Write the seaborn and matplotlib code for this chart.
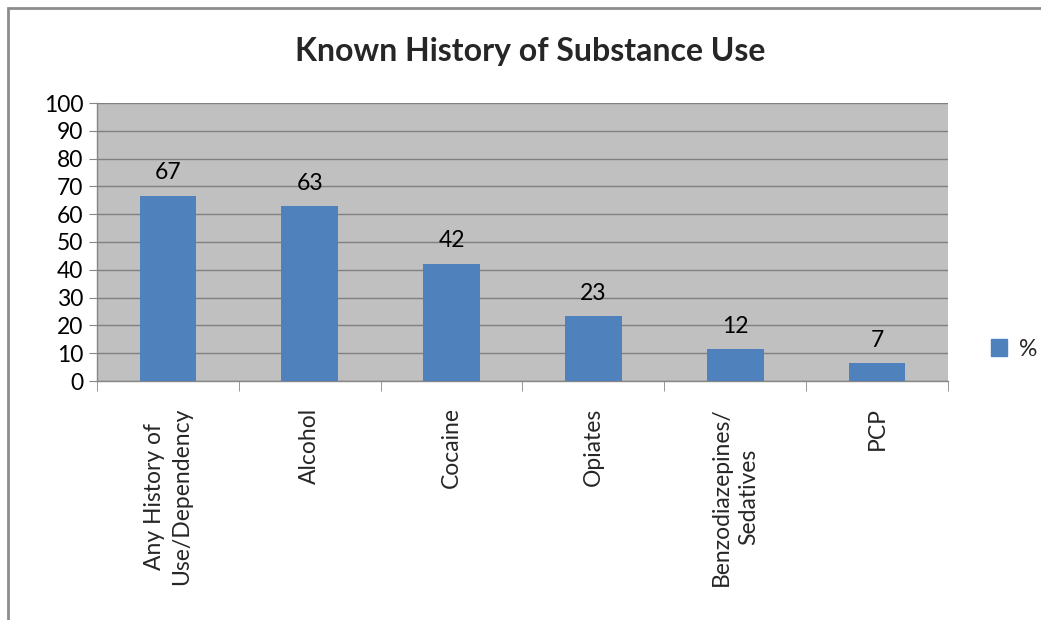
import matplotlib
matplotlib.use("Agg")
import matplotlib.pyplot as plt
import seaborn as sns
import pandas as pd
from matplotlib.patches import Rectangle, Patch

categories = ["Any History of\nUse/Dependency", "Alcohol", "Cocaine", "Opiates",
              "Benzodiazepines/\nSedatives", "PCP"]
values = [66.6, 62.8, 42.1, 23.3, 11.5, 6.4]
value_labels = ["67", "63", "42", "23", "12", "7"]
yticks = [0, 10, 20, 30, 40, 50, 60, 70, 80, 90, 100]
series_name = "%"
title = "Known History of Substance Use"

sns.set_style("white")
plt.rcParams["font.family"] = ["Lato", "DejaVu Sans"]

df = pd.DataFrame({"cat": categories, "val": values})

fig = plt.figure(figsize=(10.41, 6.2), dpi=100)
ax = fig.add_axes([97/1041, 1-381/620, (948-97)/1041, (381-103)/620])

bar_color = "#4F81BD"
sns.barplot(data=df, x="cat", y="val", color=bar_color, width=0.4, ax=ax,
            saturation=1, zorder=3, edgecolor="none", linewidth=0)

FS = 16.5
ax.set_facecolor("#C0C0C0")
ax.set_ylim(0, 100)
ax.set_xlim(-0.5, len(categories) - 0.5)
ax.set_yticks(yticks)
ax.set_yticklabels([str(t) for t in yticks], fontsize=FS)
ax.yaxis.grid(True, color="#808080", linewidth=1, zorder=0)
ax.set_axisbelow(True)
ax.set_xlabel("")
ax.set_ylabel("")

for s in ["top", "right"]:
    ax.spines[s].set_visible(False)
for s in ["left", "bottom"]:
    ax.spines[s].set_color("#868686")
    ax.spines[s].set_linewidth(1)

ax.tick_params(axis="y", which="major", direction="out", length=6, color="#868686",
               left=True, pad=4, labelcolor="black")
ax.set_xticks(range(len(categories)))
ax.set_xticklabels(categories, rotation=90, fontsize=FS, ha="center", va="top",
                   multialignment="center", linespacing=1.35)
ax.tick_params(axis="x", which="major", length=0, pad=19)
ax.set_xticks([i - 0.5 for i in range(len(categories) + 1)], minor=True)
ax.tick_params(axis="x", which="minor", direction="out", length=7, color="#868686",
               bottom=True)

for i, (v, lab) in enumerate(zip(values, value_labels)):
    ax.annotate(lab, (i, v), xytext=(0, 9), textcoords="offset points",
                ha="center", va="bottom", fontsize=FS, color="black")

fig.text(530/1041, 1-52/620, title, ha="center", va="center", fontsize=23,
         fontweight="bold")

handle = Patch(facecolor=bar_color, edgecolor=bar_color)
fig.legend([handle], [series_name], loc="center left",
           bbox_to_anchor=(982/1041, 1-349/620), frameon=False, fontsize=FS,
           handlelength=0.7, handleheight=0.7, handletextpad=0.5, borderaxespad=0)

frame = Rectangle((8/1041, -0.05), 1.2, 1 - 8/620 + 0.05, transform=fig.transFigure,
                  fill=False, edgecolor="#8C8C8C", linewidth=2, clip_on=False)
fig.patches.append(frame)

fig.savefig("out.png", dpi=100, facecolor="white")
